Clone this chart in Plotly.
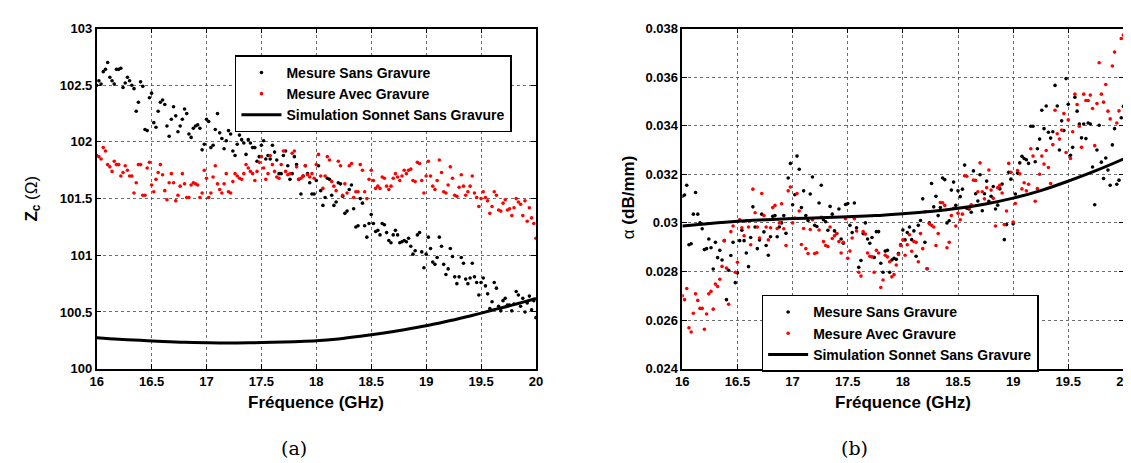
import numpy as np
import plotly.graph_objects as go

# ---------------- data ----------------
# Frequency sweep: 16 -> 20 GHz, uniform measurement grid (201 points)
F_START, F_STOP = 16.0, 20.0

zc_sans = [
    102.50, 102.54, 102.51, 102.62, 102.64, 102.70, 102.57, 102.54, 102.51, 102.64,
    102.64, 102.65, 102.48, 102.52, 102.57, 102.54, 102.50, 102.47, 102.27, 102.35,
    102.53, 102.49, 102.11, 102.10, 102.39, 102.43, 102.17, 102.13, 102.27, 102.35,
    102.37, 102.33, 102.14, 102.05, 102.20, 102.31, 102.23, 102.09, 102.14, 102.20,
    102.29, 102.25, 102.07, 102.04, 102.12, 102.14, 102.15, 102.12, 101.93, 101.98,
    102.20, 102.18, 101.95, 101.97, 102.11, 102.25, 102.08, 102.03, 101.94, 102.01,
    102.10, 102.07, 101.92, 101.88, 101.98, 102.06, 102.02, 101.99, 101.89, 102.02,
    101.99, 101.95, 101.95, 101.83, 101.87, 101.97, 102.01, 101.85, 101.88, 101.85,
    101.97, 101.91, 101.84, 101.72, 101.72, 101.88, 101.92, 101.79, 101.67, 101.72,
    101.87, 101.80, 101.67, 101.54, 101.70, 101.79, 101.72, 101.64, 101.54, 101.54,
    101.66, 101.79, 101.57, 101.44, 101.51, 101.68, 101.67, 101.53, 101.44, 101.47,
    101.64, 101.63, 101.52, 101.37, 101.39, 101.58, 101.62, 101.41, 101.25, 101.26,
    101.50, 101.46, 101.26, 101.16, 101.28, 101.36, 101.28, 101.21, 101.22, 101.18,
    101.28, 101.27, 101.20, 101.13, 101.11, 101.18, 101.22, 101.18, 101.11, 101.12,
    101.13, 101.12, 101.15, 101.08, 101.01, 101.04, 101.18, 101.20, 101.03, 100.89,
    101.01, 101.16, 101.06, 100.94, 100.92, 100.98, 101.16, 101.08, 100.92, 100.83,
    100.88, 101.06, 100.99, 100.81, 100.75, 100.81, 100.98, 100.93, 100.79, 100.75,
    100.80, 100.93, 100.81, 100.76, 100.65, 100.76, 100.80, 100.73, 100.66, 100.53,
    100.59, 100.76, 100.71, 100.55, 100.51, 100.60, 100.62, 100.56, 100.56, 100.51,
    100.57, 100.68, 100.65, 100.55, 100.62, 100.50, 100.58, 100.64, 100.52, 100.60,
    100.45,
]

zc_avec = [
    101.88, 101.87, 101.85, 101.95, 101.92, 101.80, 101.78, 101.74, 101.83, 101.80,
    101.80, 101.70, 101.73, 101.79, 101.75, 101.70, 101.70, 101.55, 101.64, 101.80,
    101.80, 101.53, 101.53, 101.77, 101.82, 101.62, 101.56, 101.67, 101.73, 101.80,
    101.71, 101.57, 101.49, 101.64, 101.72, 101.64, 101.48, 101.53, 101.61, 101.72,
    101.63, 101.51, 101.51, 101.62, 101.64, 101.63, 101.62, 101.51, 101.55, 101.75,
    101.68, 101.51, 101.55, 101.69, 101.79, 101.63, 101.58, 101.55, 101.63, 101.72,
    101.56, 101.55, 101.65, 101.72, 101.70, 101.68, 101.67, 101.72, 101.80, 101.77,
    101.74, 101.72, 101.66, 101.74, 101.82, 101.87, 101.77, 101.67, 101.72, 101.88,
    101.80, 101.74, 101.69, 101.68, 101.80, 101.92, 101.74, 101.71, 101.72, 101.90,
    101.92, 101.78, 101.67, 101.68, 101.70, 101.79, 101.71, 101.69, 101.72, 101.68,
    101.80, 101.89, 101.70, 101.59, 101.70, 101.87, 101.84, 101.65, 101.61, 101.57,
    101.83, 101.79, 101.53, 101.63, 101.55, 101.79, 101.81, 101.51, 101.56, 101.56,
    101.80, 101.75, 101.56, 101.50, 101.67, 101.75, 101.66, 101.59, 101.61, 101.59,
    101.69, 101.68, 101.61, 101.58, 101.61, 101.68, 101.72, 101.69, 101.66, 101.70,
    101.75, 101.72, 101.75, 101.76, 101.66, 101.65, 101.82, 101.81, 101.66, 101.55,
    101.70, 101.83, 101.70, 101.61, 101.58, 101.66, 101.84, 101.73, 101.56, 101.55,
    101.62, 101.78, 101.68, 101.53, 101.52, 101.60, 101.71, 101.61, 101.53, 101.56,
    101.61, 101.70, 101.55, 101.51, 101.43, 101.50, 101.56, 101.51, 101.48, 101.37,
    101.43, 101.56, 101.53, 101.40, 101.39, 101.46, 101.49, 101.40, 101.41, 101.35,
    101.42, 101.50, 101.47, 101.45, 101.35, 101.48, 101.30, 101.42, 101.33, 101.28,
    101.15,
]

sim_freq = [16.0, 16.2, 16.4, 16.6, 16.8, 17.0, 17.2, 17.4, 17.6, 17.8, 18.0,
            18.2, 18.4, 18.6, 18.8, 19.0, 19.2, 19.4, 19.6, 19.8, 20.0]
zc_sim = [100.273, 100.260, 100.250, 100.240, 100.232, 100.228, 100.226, 100.228,
          100.232, 100.238, 100.246, 100.262, 100.285, 100.312, 100.343, 100.378,
          100.420, 100.465, 100.515, 100.565, 100.620]

alpha_sans = [
    0.03110, 0.03115, 0.03155, 0.02910, 0.02914, 0.03036, 0.03125, 0.03036, 0.03000, 0.02976,
    0.02890, 0.02894, 0.02934, 0.02898, 0.02810, 0.02920, 0.02857, 0.02887, 0.02847, 0.02927,
    0.02684, 0.02805, 0.02866, 0.02920, 0.02754, 0.02794, 0.02927, 0.02970, 0.02927, 0.02876,
    0.02820, 0.02940, 0.03066, 0.02983, 0.02894, 0.02930, 0.03036, 0.02963, 0.02907, 0.02867,
    0.02943, 0.03027, 0.03030, 0.02943, 0.02983, 0.03000, 0.03030, 0.02957, 0.03185, 0.03245,
    0.03075, 0.03116, 0.03275, 0.03221, 0.03063, 0.03132, 0.03030, 0.03010, 0.03119, 0.03189,
    0.02990, 0.02985, 0.03082, 0.03155, 0.03013, 0.03005, 0.02970, 0.03068, 0.03036, 0.02967,
    0.02956, 0.03057, 0.02934, 0.02916, 0.03076, 0.03080, 0.02990, 0.02960, 0.03082, 0.02980,
    0.02817, 0.02845, 0.02956, 0.03000, 0.02934, 0.02916, 0.02940, 0.02858, 0.02964, 0.02964,
    0.02834, 0.02797, 0.02884, 0.02887, 0.02797, 0.02847, 0.02854, 0.02850, 0.02874, 0.02910,
    0.02971, 0.02930, 0.02960, 0.02983, 0.02931, 0.02967, 0.02863, 0.02990, 0.03010, 0.03099,
    0.02920, 0.02811, 0.03000, 0.03162, 0.03066, 0.03110, 0.03030, 0.03063, 0.03185, 0.03178,
    0.03000, 0.03009, 0.03135, 0.03168, 0.03072, 0.03132, 0.03108, 0.03139, 0.03238, 0.03060,
    0.03057, 0.03044, 0.03214, 0.03120, 0.03090, 0.03198, 0.03050, 0.03120, 0.03172, 0.03089,
    0.03110, 0.03150, 0.03057, 0.03073, 0.03140, 0.03160, 0.02931, 0.02993, 0.03208, 0.03180,
    0.02996, 0.03119, 0.03205, 0.03247, 0.03274, 0.03265, 0.03260, 0.03245, 0.03398, 0.03398,
    0.03252, 0.03305, 0.03345, 0.03464, 0.03388, 0.03481, 0.03373, 0.03349, 0.03375, 0.03566,
    0.03481, 0.03300, 0.03420, 0.03380, 0.03594, 0.03488, 0.03278, 0.03311, 0.03517, 0.03460,
    0.03407, 0.03350, 0.03407, 0.03347, 0.03411, 0.03407, 0.03230, 0.03075, 0.03300, 0.03402,
    0.03250, 0.03183, 0.03267, 0.03218, 0.03155, 0.03321, 0.03388, 0.03159, 0.03176, 0.03433,
    0.03480,
]

alpha_avec = [
    0.02700, 0.02684, 0.02730, 0.02568, 0.02551, 0.02628, 0.02708, 0.02681, 0.02648, 0.02648,
    0.02562, 0.02625, 0.02708, 0.02718, 0.02645, 0.02748, 0.02738, 0.02768, 0.02821, 0.02927,
    0.02814, 0.02665, 0.02964, 0.02987, 0.02797, 0.02838, 0.03013, 0.02980, 0.02947, 0.03009,
    0.02983, 0.02910, 0.03139, 0.03042, 0.02983, 0.02938, 0.03121, 0.03030, 0.02983, 0.02930,
    0.02980, 0.03063, 0.03072, 0.02977, 0.03000, 0.03079, 0.02976, 0.02907, 0.03132, 0.03148,
    0.03000, 0.03020, 0.03121, 0.03049, 0.02911, 0.02977, 0.02894, 0.02874, 0.02973, 0.03013,
    0.02874, 0.02877, 0.02971, 0.03023, 0.02923, 0.02907, 0.02903, 0.02983, 0.02936, 0.02947,
    0.02956, 0.02923, 0.02876, 0.02920, 0.03017, 0.02854, 0.02884, 0.02938, 0.03017, 0.02967,
    0.02797, 0.02781, 0.02964, 0.02954, 0.02876, 0.02863, 0.02860, 0.02797, 0.02887, 0.02876,
    0.02734, 0.02765, 0.02867, 0.02860, 0.02840, 0.02778, 0.02787, 0.02827, 0.02870, 0.02907,
    0.02930, 0.02867, 0.02910, 0.02951, 0.02883, 0.02923, 0.02920, 0.02840, 0.02956, 0.02894,
    0.03046, 0.02811, 0.02996, 0.02990, 0.02983, 0.02907, 0.02956, 0.03084, 0.03083, 0.03072,
    0.02898, 0.02920, 0.03030, 0.03060, 0.02987, 0.03040, 0.03013, 0.03036, 0.03194, 0.03192,
    0.03062, 0.03075, 0.03176, 0.03175, 0.03128, 0.03247, 0.03128, 0.03099, 0.03145, 0.03218,
    0.03135, 0.03101, 0.02987, 0.03145, 0.03155, 0.03123, 0.02993, 0.03049, 0.03245, 0.03208,
    0.03004, 0.03080, 0.03216, 0.03202, 0.03140, 0.03165, 0.03132, 0.03159, 0.03305, 0.03275,
    0.03089, 0.03141, 0.03200, 0.03275, 0.03242, 0.03298, 0.03228, 0.03162, 0.03322, 0.03464,
    0.03367, 0.03345, 0.03382, 0.03450, 0.03290, 0.03424, 0.03265, 0.03375, 0.03530, 0.03487,
    0.03398, 0.03311, 0.03530, 0.03504, 0.03504, 0.03526, 0.03471, 0.03318, 0.03491, 0.03659,
    0.03530, 0.03497, 0.03570, 0.03460, 0.03428, 0.03646, 0.03703, 0.03411, 0.03461, 0.03759,
    0.03773,
]

sim_freq_b = [16.0, 16.25, 16.5, 16.75, 17.0, 17.25, 17.5, 17.75, 18.0, 18.25, 18.5,
              18.75, 19.0, 19.25, 19.5, 19.75, 20.0]
alpha_sim = [0.02987, 0.02998, 0.03007, 0.03013, 0.03018, 0.03021, 0.03025, 0.03030,
             0.03038, 0.03047, 0.03060, 0.03078, 0.03102, 0.03133, 0.03172, 0.03215,
             0.03263]

names = ["Mesure Sans Gravure", "Mesure Avec Gravure", "Simulation Sonnet Sans Gravure"]

x_ticks = [16, 16.5, 17, 17.5, 18, 18.5, 19, 19.5, 20]
x_ticktext = ["16", "16.5", "17", "17.5", "18", "18.5", "19", "19.5", "20"]
zc_ticks = [100, 100.5, 101, 101.5, 102, 102.5, 103]
zc_ticktext = ["100", "100.5", "101", "101.5", "102", "102.5", "103"]
al_ticks = [0.024, 0.026, 0.028, 0.030, 0.032, 0.034, 0.036, 0.038]
al_ticktext = ["0.024", "0.026", "0.028", "0.03", "0.032", "0.034", "0.036", "0.038"]

# ---------------- figure ----------------
W, H = 1131, 463
freq_a = np.linspace(F_START, F_STOP, len(zc_sans))
freq_b = np.linspace(F_START, F_STOP, len(alpha_sans))


def bold(labels):
    return ["<b>%s</b>" % s for s in labels]


MS = 3.6
fig = go.Figure()
fig.add_trace(go.Scatter(x=freq_a, y=zc_sans, mode="markers", name=names[0],
                         marker=dict(color="black", size=MS), xaxis="x", yaxis="y",
                         legend="legend"))
fig.add_trace(go.Scatter(x=freq_a, y=zc_avec, mode="markers", name=names[1],
                         marker=dict(color="red", size=MS), xaxis="x", yaxis="y",
                         legend="legend"))
fig.add_trace(go.Scatter(x=sim_freq, y=zc_sim, mode="lines", name=names[2],
                         line=dict(color="black", width=3, shape="spline"),
                         xaxis="x", yaxis="y", legend="legend"))
fig.add_trace(go.Scatter(x=freq_b, y=alpha_sans, mode="markers", name=names[0],
                         marker=dict(color="black", size=MS), xaxis="x2", yaxis="y2",
                         legend="legend2"))
fig.add_trace(go.Scatter(x=freq_b, y=alpha_avec, mode="markers", name=names[1],
                         marker=dict(color="red", size=MS), xaxis="x2", yaxis="y2",
                         legend="legend2"))
fig.add_trace(go.Scatter(x=sim_freq_b, y=alpha_sim, mode="lines", name=names[2],
                         line=dict(color="black", width=3, shape="spline"),
                         xaxis="x2", yaxis="y2", legend="legend2"))

FONT = "Liberation Sans"
tickfont = dict(family=FONT, size=13, color="black")
common = dict(showline=True, linecolor="black", linewidth=1.5, mirror="allticks",
              ticks="inside", ticklen=5, tickwidth=1, tickcolor="black",
              showgrid=True, gridcolor="rgba(60,60,60,0.75)", griddash="dot",
              gridwidth=1, zeroline=False, tickfont=tickfont)

xl0, xl1 = 82.7 / W, 527.5 / W
xr0, xr1 = 675.7 / W, 1122.3 / W
yb, yt = 1 - 365.5 / H, 1 - 14 / H

legfont = dict(family=FONT, size=14, color="black")
fig.update_layout(
    width=W, height=H, autosize=False,
    margin=dict(l=0, r=0, t=0, b=0),
    paper_bgcolor="white", plot_bgcolor="white",
    font=dict(family=FONT, color="black"),
    xaxis=dict(domain=[xl0, xl1], range=[16, 20], tickvals=x_ticks,
               ticktext=bold(x_ticktext), anchor="y", **common),
    yaxis=dict(domain=[yb, yt], range=[100, 103], tickvals=zc_ticks,
               ticktext=bold(zc_ticktext), anchor="x", **common),
    xaxis2=dict(domain=[xr0, xr1], range=[16, 20], tickvals=x_ticks,
                ticktext=bold(x_ticktext), anchor="y2", **common),
    yaxis2=dict(domain=[yb, yt], range=[0.024, 0.038], tickvals=al_ticks,
                ticktext=bold(al_ticktext), anchor="x2", **common),
    legend=dict(x=222.7 / W, y=1 - 41.7 / H, xanchor="left", yanchor="top",
                bgcolor="white", bordercolor="black", borderwidth=1.5,
                font=legfont, tracegroupgap=0, itemsizing="trace", itemwidth=40),
    legend2=dict(x=756 / W, y=1 - 289.3 / H, xanchor="left", yanchor="top",
                 bgcolor="white", bordercolor="black", borderwidth=1.5,
                 font=legfont, tracegroupgap=0, itemsizing="trace", itemwidth=40),
    showlegend=True,
)
# legend entries in bold
for tr in fig.data:
    tr.name = "<b>%s</b>" % tr.name

title_font = dict(family=FONT, size=17, color="black")
cap_font = dict(family="DejaVu Serif", size=19, color="black")
ann = [
    dict(text="<b>Fréquence (GHz)</b>", x=(82.7 + 527.5) / 2 / W, y=1 - 400 / H,
         font=title_font),
    dict(text="<b>Fréquence (GHz)</b>", x=(675.7 + 1122.3) / 2 / W, y=1 - 400 / H,
         font=title_font),
    dict(text="<b>Z<sub>c</sub></b> (Ω)", x=18 / W, y=1 - 190 / H, textangle=-90,
         font=title_font),
    dict(text="α <b>(dB/mm)</b>", x=622 / W, y=1 - 188 / H, textangle=-90,
         font=title_font),
    dict(text="(a)", x=283 / W, y=1 - 448 / H, font=cap_font),
    dict(text="(b)", x=850 / W, y=1 - 448 / H, font=cap_font),
]
for a in ann:
    a.update(xref="paper", yref="paper", showarrow=False, xanchor="center",
             yanchor="middle")
fig.update_layout(annotations=ann)

fig.write_html("out.html")
